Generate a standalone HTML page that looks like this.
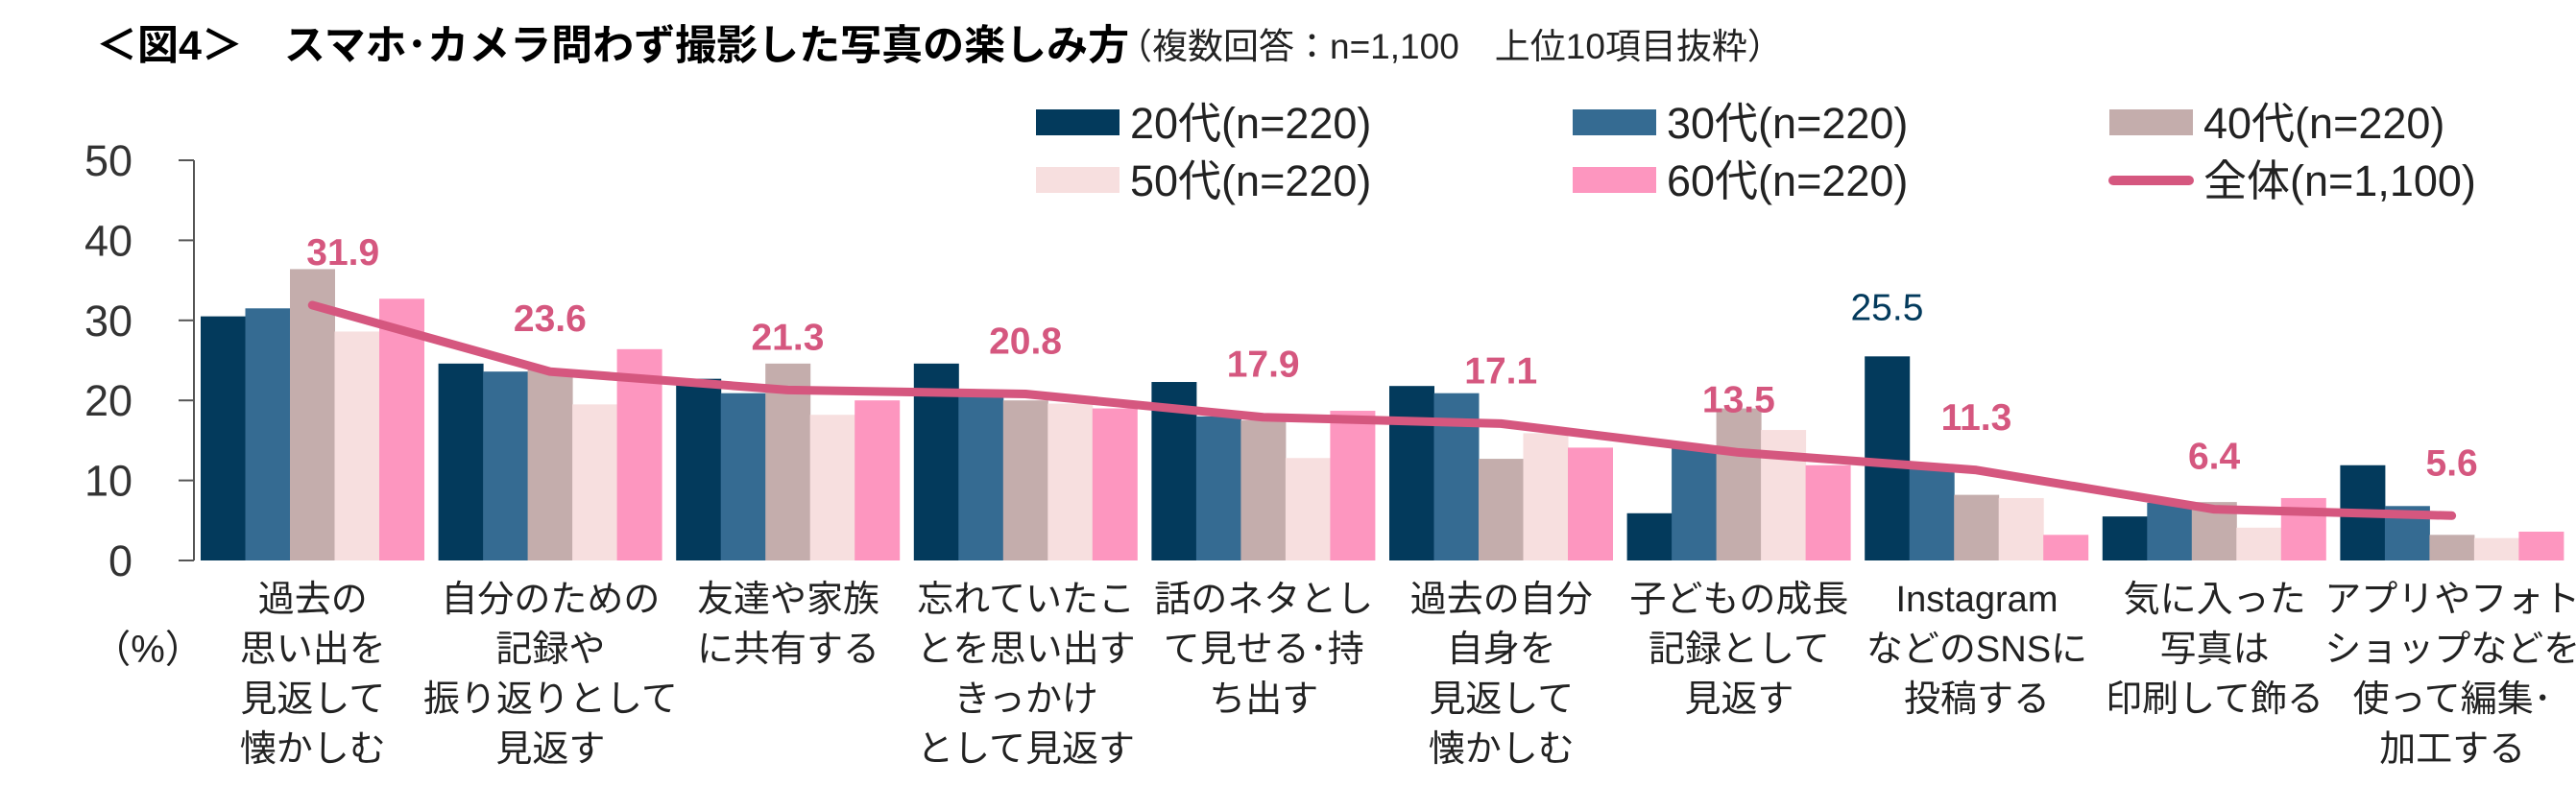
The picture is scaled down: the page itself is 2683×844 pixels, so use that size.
<!DOCTYPE html>
<html><head><meta charset="utf-8">
<style>
html,body{margin:0;padding:0;background:#fff;}
svg{display:block;font-family:"Liberation Sans","Noto Sans CJK JP",sans-serif;}
</style></head>
<body>
<svg id="chart" width="2683" height="844" viewBox="0 0 2683 844" xmlns="http://www.w3.org/2000/svg">
<text x="100" y="62" font-size="43" font-weight="bold" fill="#000">＜図4＞　スマホ･カメラ問わず撮影した写真の楽しみ方</text>
<text x="1163" y="61" font-size="37" fill="#222">（複数回答：n=1,100　上位10項目抜粋）</text>
<g id="legend"></g>
<g id="axis"></g>
<g id="bars"></g>
<g id="line"></g>
<g id="cats"></g>
<text x="154" y="690" font-size="40" text-anchor="middle" fill="#222">（%）</text>
</svg>
<script>
const categories = [
 ["過去の","思い出を","見返して","懐かしむ"],
 ["自分のための","記録や","振り返りとして","見返す"],
 ["友達や家族","に共有する"],
 ["忘れていたこ","とを思い出す","きっかけ","として見返す"],
 ["話のネタとし","て見せる･持","ち出す"],
 ["過去の自分","自身を","見返して","懐かしむ"],
 ["子どもの成長","記録として","見返す"],
 ["Instagram","などのSNSに","投稿する"],
 ["気に入った","写真は","印刷して飾る"],
 ["アプリやフォト","ショップなどを","使って編集･","加工する"]
];
const seriesNames = ["20代(n=220)","30代(n=220)","40代(n=220)","50代(n=220)","60代(n=220)"];
const s20 = [30.5,24.6,22.7,24.6,22.3,21.8,5.9,25.5,5.5,11.9];
const s30 = [31.5,23.6,20.9,20.6,18.0,20.9,14.3,11.6,7.2,6.8];
const s40 = [36.4,23.8,24.6,20.0,17.5,12.7,19.0,8.2,7.3,3.2];
const s50 = [28.6,19.5,18.2,19.6,12.8,15.9,16.3,7.8,4.1,2.8];
const s60 = [32.7,26.4,20.0,19.0,18.7,14.1,11.9,3.2,7.8,3.6];
const total = [31.9,23.6,21.3,20.8,17.9,17.1,13.5,11.3,6.4,5.6];
const yTicks = [0,10,20,30,40,50];
const series = [s20,s30,s40,s50,s60];
const colors = ["#033a5c","#356b92","#c4adac","#f7dfdf","#fd96bf"];
const lineColor = "#d5577f";
const NS="http://www.w3.org/2000/svg";
const X0=202, X1=2678, Y0=584, Y1=167;
const yS=v=>Y0-(v/50)*(Y0-Y1);
const catW=(X1-X0)/categories.length;
const barW=46.5;
const groupStart=i=>X0+i*catW+7;
const barX=(i,k)=>groupStart(i)+k*barW;
function mk(tag,attrs,parent){const e=document.createElementNS(NS,tag);for(const k in attrs)e.setAttribute(k,attrs[k]);parent.appendChild(e);return e;}
const axis=document.getElementById('axis');
const av=mk('line',{x1:X0,y1:Y1,x2:X0,y2:Y0,stroke:"#555","stroke-width":2},axis);


yTicks.forEach(t=>{
 const tk=mk('line',{x1:X0-16,y1:yS(t),x2:X0,y2:yS(t),stroke:"#555","stroke-width":2},axis);
 
 
 const tl=mk('text',{x:138,y:yS(t)+16,"font-size":45,"text-anchor":"end",fill:"#333"},axis);
 tl.textContent=t;
 
 
});
const bars=document.getElementById('bars');
series.forEach((s,k)=>{
 s.forEach((v,i)=>{
  const r=mk('rect',{x:barX(i,k),y:yS(v),width:barW+0.5,height:Y0-yS(v),fill:colors[k]},bars);
  
  
 });
});
const lb=mk('text',{x:barX(7,0)+barW/2,y:yS(s20[7])-38,"font-size":39,"text-anchor":"middle",fill:"#033a5c"},bars);
lb.textContent=s20[7].toFixed(1);


const lg=document.getElementById('line');
const cx=i=>barX(i,2)+barW/2;
const pts=total.map((v,i)=>cx(i)+","+yS(v)).join(" ");
const pl=mk('polyline',{points:pts,fill:"none",stroke:lineColor,"stroke-width":9,"stroke-linecap":"round","stroke-linejoin":"round"},lg);


total.forEach((v,i)=>{
 const t=mk('text',{x:cx(i)+(i===0?32:0),y:yS(v)-42,"font-size":39,"font-weight":"bold","text-anchor":"middle",fill:lineColor},lg);
 t.textContent=v.toFixed(1);
 
 
});
const cats=document.getElementById('cats');
categories.forEach((lines,i)=>{
 lines.forEach((ln,j)=>{
  const t=mk('text',{x:X0+i*catW+catW/2,y:637+j*52,"font-size":38,"text-anchor":"middle",fill:"#222"},cats);
  t.textContent=ln;
  
  
 });
});
const legend=document.getElementById('legend');
const lpos=[[1079,128],[1638,128],[2197,128],[1079,188],[1638,188],[2197,188]];
seriesNames.forEach((n,k)=>{
 const [x,y]=lpos[k];
 const r=mk('rect',{x:x,y:y-14,width:87,height:27,fill:colors[k]},legend);
 
 
 const t=mk('text',{x:x+98,y:y+16,"font-size":45,fill:"#222"},legend);
 t.textContent=n;
 
 
});
{
 const [x,y]=lpos[5];
 const l=mk('line',{x1:x+4,y1:y,x2:x+83,y2:y,stroke:lineColor,"stroke-width":10,"stroke-linecap":"round"},legend);
 
 
 const t=mk('text',{x:x+98,y:y+16,"font-size":45,fill:"#222"},legend);
 t.textContent="全体(n=1,100)";
 
 
}
</script>
</body></html>
